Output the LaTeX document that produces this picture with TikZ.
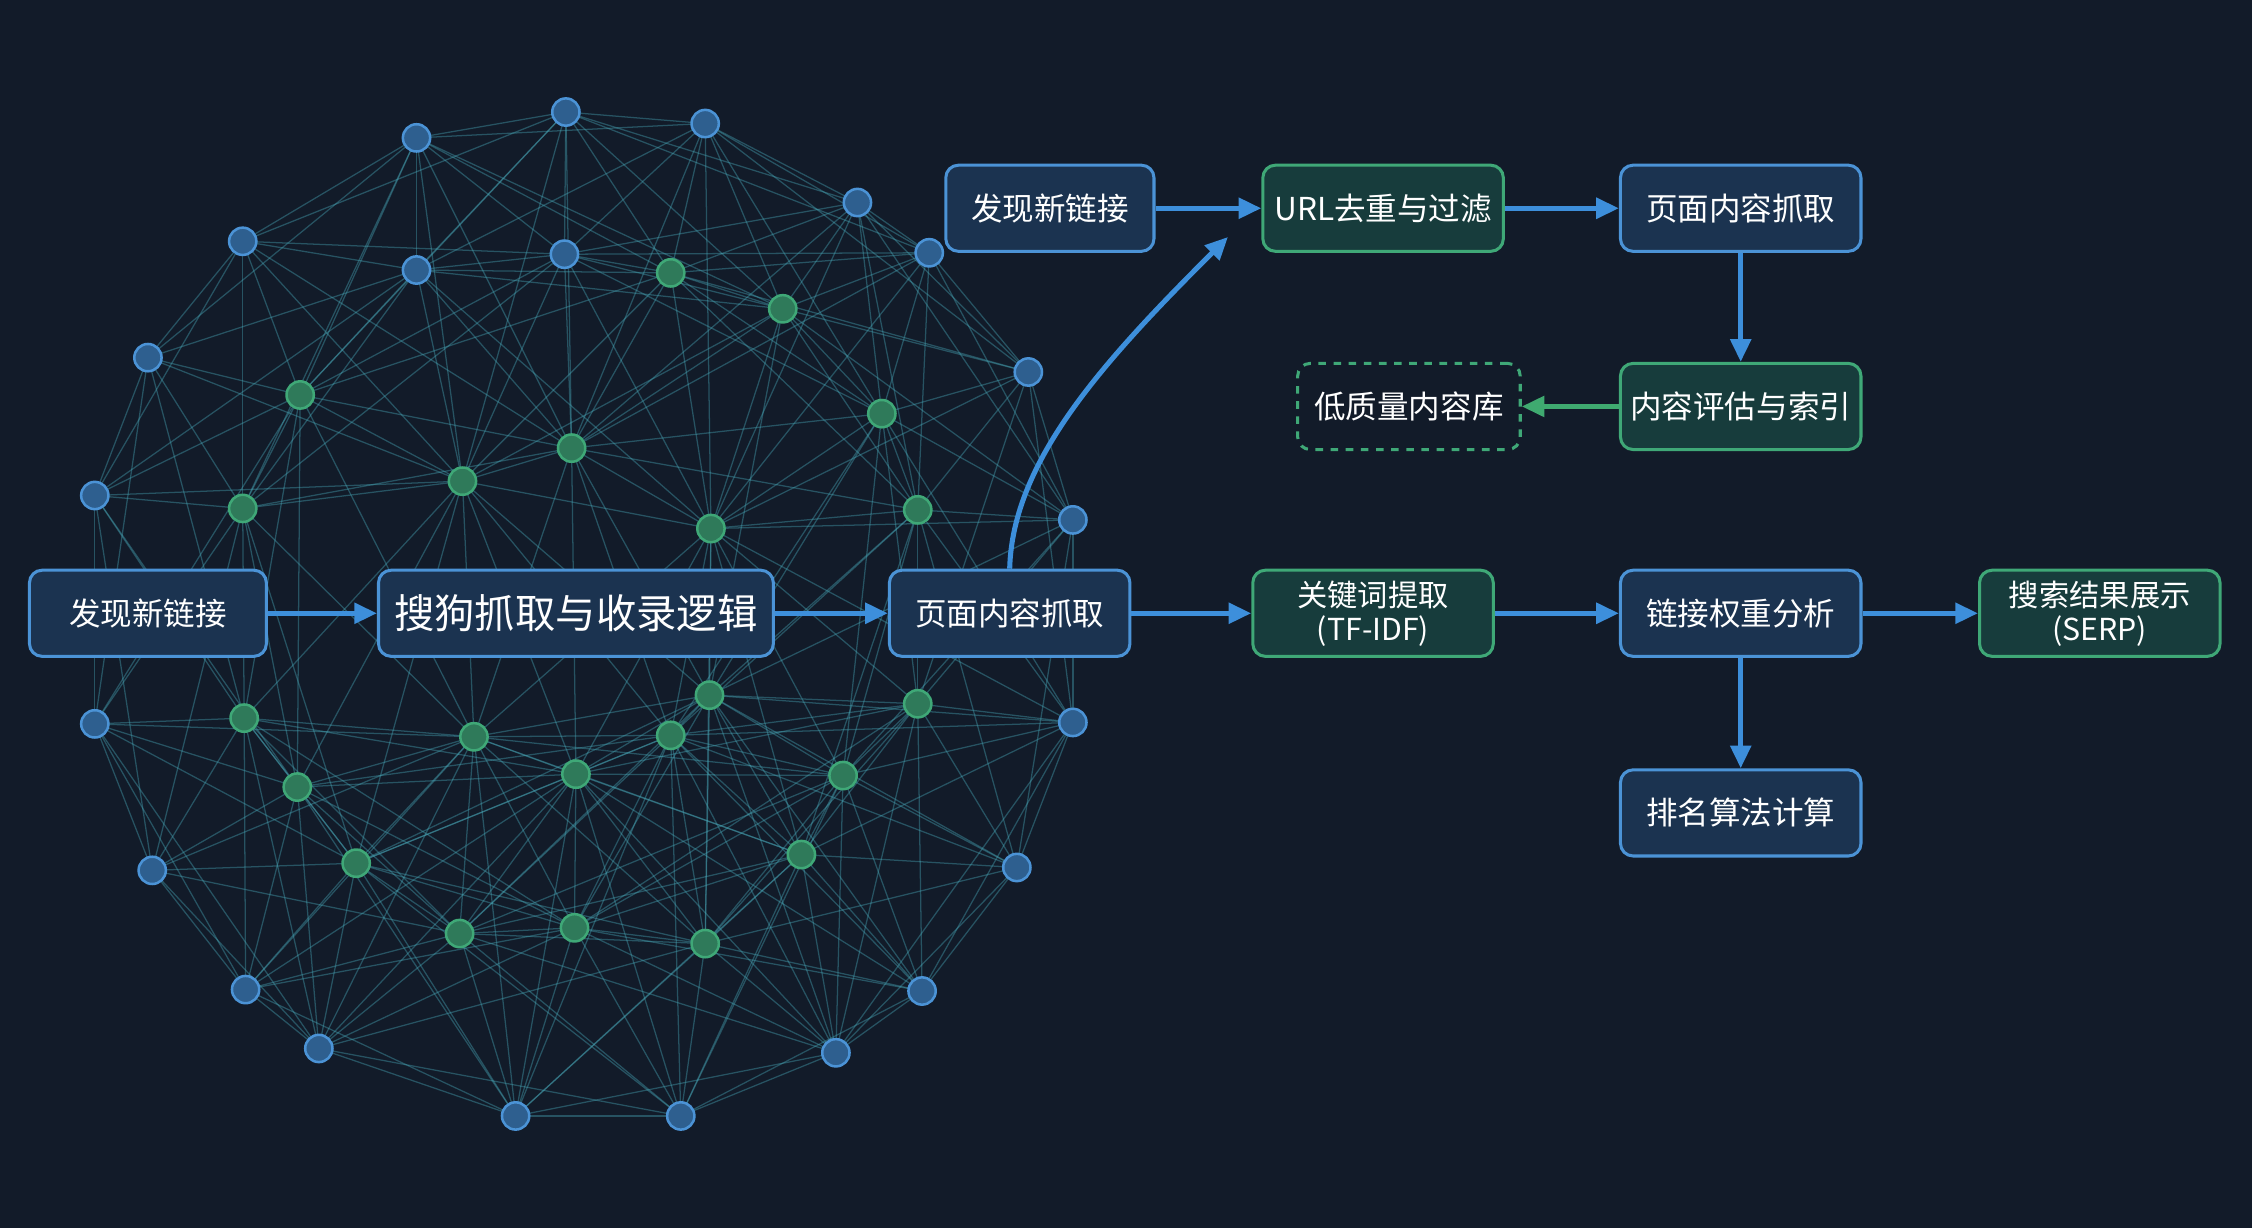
\documentclass[tikz,border=0pt]{standalone}
\usepackage{fontspec}
\setmainfont{Noto Sans CJK SC}
\usetikzlibrary{arrows.meta}
\definecolor{bg}{HTML}{121B29}
\definecolor{bfill}{HTML}{1B3350}
\definecolor{bline}{HTML}{4B93D6}
\definecolor{gfill}{HTML}{173C3C}
\definecolor{gline}{HTML}{3FA877}
\definecolor{arr}{HTML}{3D8FDB}
\definecolor{garr}{HTML}{3FAA70}
\definecolor{nblue}{HTML}{2E5F8F}
\definecolor{ngreen}{HTML}{2F7A5A}
\definecolor{edge}{HTML}{48A8B8}
\begin{document}
\begin{tikzpicture}[x=0.02cm,y=-0.02cm,
  box/.style={draw=bline,fill=bfill,line width=1.2pt,rounded corners=5pt,text=white,minimum height=1.2cm,font=\fontsize{12.5}{14}\selectfont,align=center,inner sep=2pt},
  gbox/.style={box,draw=gline,fill=gfill},
  ar/.style={-{Triangle[length=9pt,width=8pt]},draw=arr,line width=2pt},
  dot/.style={circle,minimum size=0.38cm,inner sep=0,line width=1pt},
  bdot/.style={dot,fill=nblue,draw=bline},
  gdot/.style={dot,fill=ngreen,draw=gline}]
\fill[bg] (0,0) rectangle (1568,855);
\useasboundingbox (0,0) rectangle (1568,855);
\def\pts{394/78/b,491/86/b,597/141/b,647/176/b,716/259/b,747/362/b,747/503/b,708/604/b,642/690/b,582/733/b,474/777/b,359/777/b,222/730/b,171/689/b,106/606/b,66/504/b,66/345/b,103/249/b,169/168/b,290/96/b,290/188/b,393/177/b,467/190/g,545/215/g,614/288/g,639/355/g,639/490/g,587/540/g,558/595/g,491/657/g,400/646/g,320/650/g,248/601/g,207/548/g,170/500/g,169/354/g,209/275/g,398/312/g,322/335/g,495/368/g,494/484/g,467/512/g,401/539/g,330/513/g}
\foreach \xa/\ya/\ta [count=\i] in \pts {
  \foreach \xb/\yb/\tb [count=\j] in \pts {
    \pgfmathparse{(\j>\i)&&(veclen(\xb-\xa,\yb-\ya)<290)?1:0}
    \ifdim\pgfmathresult pt>0.5pt
      \draw[edge,opacity=0.4,line width=0.5pt] (\xa,\ya)--(\xb,\yb);
    \fi
  }
}
\foreach \x/\y/\t [count=\k] in \pts {
  \node[\t dot] (p\k) at (\x,\y) {};
}
\node[box] (a1) at (103,427) [minimum width=3.3cm] {发现新链接};
\node[box,font=\fontsize{16}{18}\selectfont] (a2) at (401,427) [minimum width=5.5cm] {搜狗抓取与收录逻辑};
\node[box] (a3) at (703,427) [minimum width=3.35cm] {页面内容抓取};
\node[gbox,font=\fontsize{12}{13.5}\selectfont] (a4) at (956,427) [minimum width=3.35cm] {关键词提取\\(TF-IDF)};
\node[box] (a5) at (1212,427) [minimum width=3.35cm] {链接权重分析};
\node[gbox,font=\fontsize{12}{13.5}\selectfont] (a6) at (1462,427) [minimum width=3.35cm] {搜索结果展示\\(SERP)};
\node[box] (a7) at (1212,566) [minimum width=3.35cm] {排名算法计算};
\node[box] (b1) at (731,145) [minimum width=2.9cm] {发现新链接};
\node[gbox] (b2) at (963,145) [minimum width=3.35cm] {URL去重与过滤};
\node[box] (b3) at (1212,145) [minimum width=3.35cm] {页面内容抓取};
\node[gbox] (b4) at (1212,283) [minimum width=3.35cm] {内容评估与索引};
\node[gbox,dashed,fill=bg] (b5) at (981,283) [minimum width=3.1cm] {低质量内容库};
\coordinate (c1) at (855,165);
\draw[ar] (a1)--(a2);
\draw[ar] (a2)--(a3);
\draw[ar] (a3)--(a4);
\draw[ar] (a4)--(a5);
\draw[ar] (a5)--(a6);
\draw[ar] (a5)--(a7);
\draw[ar] (b1)--(b2);
\draw[ar] (b2)--(b3);
\draw[ar] (b3)--(b4);
\draw[ar,draw=garr] (b4)--(b5);
\draw[ar] (a3.north) .. controls (705,320) and (770,250) .. (c1);
\end{tikzpicture}
\end{document}
